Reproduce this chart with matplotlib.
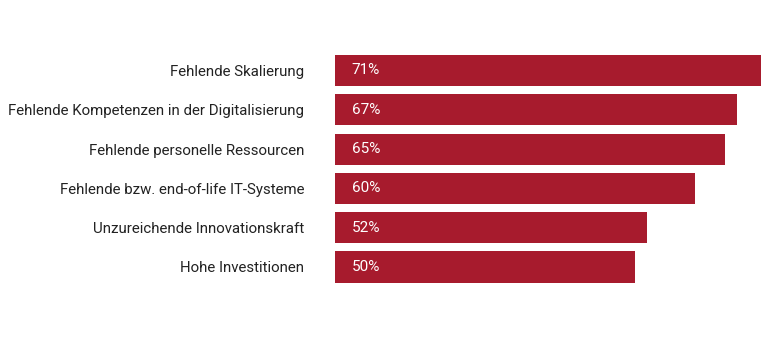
import matplotlib
matplotlib.use("Agg")
import matplotlib.pyplot as plt

# Hemmnisse, Anteil in Prozent
labels = [
    "Fehlende Skalierung",
    "Fehlende Kompetenzen in der Digitalisierung",
    "Fehlende personelle Ressourcen",
    "Fehlende bzw. end-of-life IT-Systeme",
    "Unzureichende Innovationskraft",
    "Hohe Investitionen",
]
values = [71, 67, 65, 60, 52, 50]

RED = "#A71B2D"
plt.rcParams["font.family"] = ["Roboto", "DejaVu Sans"]

W, H = 768, 337
fig = plt.figure(figsize=(W / 100, H / 100), dpi=100)
# 6 px per percent, bars start at x=335
x0, pitch = 335, 39.3
top = 70.5 - pitch / 2
ax = fig.add_axes([x0 / W, 1 - (top + 6 * pitch) / H, 72 * 6 / W, 6 * pitch / H])

ys = list(range(len(values)))
ax.barh(ys, values, height=0.79, color=RED, edgecolor="none")
ax.set_xlim(0, 72)
ax.set_ylim(5.5, -0.5)

for y, v in zip(ys, values):
    ax.text(2.8, y, f"{v}%", color="white", fontsize=11, va="center", ha="left")

ax.set_yticks(ys)
ax.set_yticklabels(labels, fontsize=10.8, color="#222222")
ax.tick_params(axis="y", length=0, pad=22)
ax.set_xticks([])
for s in ax.spines.values():
    s.set_visible(False)

fig.savefig("out.png", dpi=100, facecolor="white")
